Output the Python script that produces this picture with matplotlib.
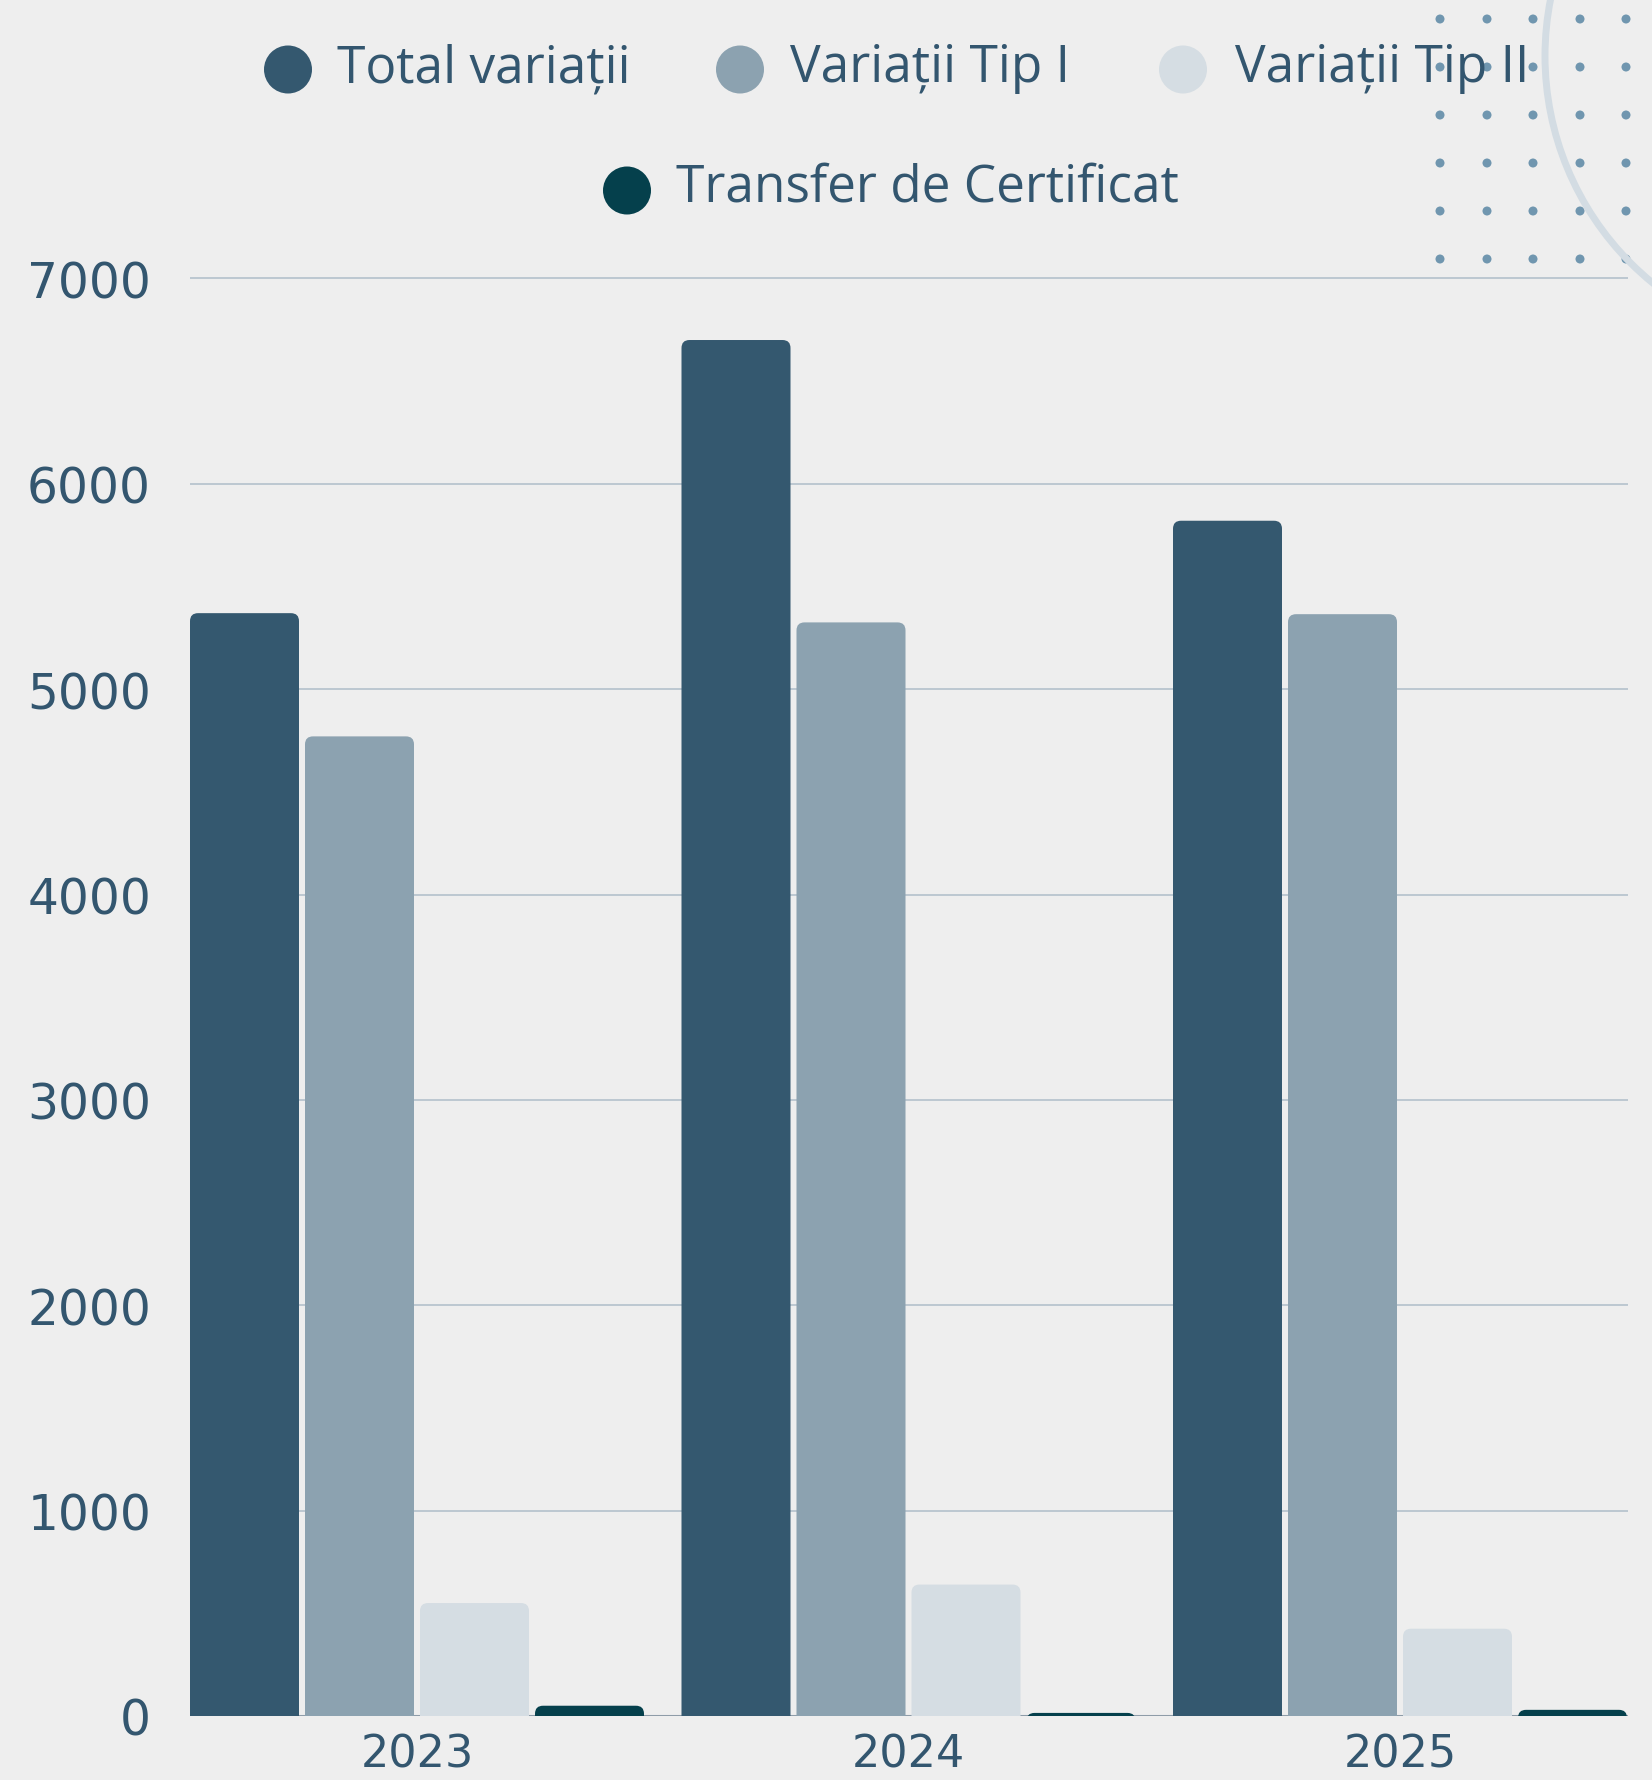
import matplotlib
matplotlib.use("Agg")
import matplotlib.pyplot as plt
from matplotlib.patches import FancyBboxPatch, Circle
import numpy as np

# ---- data ----
years = ["2023", "2024", "2025"]
series_labels = ["Total variații", "Variații Tip I", "Variații Tip II", "Transfer de Certificat"]
total_variatii = [5370, 6700, 5820]
variatii_tip1 = [4770, 5325, 5365]
variatii_tip2 = [550, 640, 425]
transfer_cert = [50, 15, 30]
y_ticks = [0, 1000, 2000, 3000, 4000, 5000, 6000, 7000]

series = [total_variatii, variatii_tip1, variatii_tip2, transfer_cert]
colors = ["#34586F", "#8CA2B0", "#D5DDE3", "#05404C"]
text_color = "#33566F"
bg = "#EEEEEE"

W, H = 1652, 1781
fig = plt.figure(figsize=(W / 100, H / 100), dpi=100)
fig.patch.set_facecolor(bg)

# ---- overlay (decoration + legend) in pixel coordinates ----
ov = fig.add_axes([0, 0, 1, 1], zorder=0)
ov.set_xlim(0, W)
ov.set_ylim(H, 0)
ov.axis("off")
ov.patch.set_alpha(0)

# dot grid decoration
for dx in [1440, 1487, 1533, 1580, 1626]:
    for dy in [20, 68, 116, 164, 212, 260]:
        ov.add_patch(Circle((dx, dy), 4.5, color="#7096AF", zorder=1, lw=0))
# arc decoration
ov.add_patch(Circle((1838, 57), 293, fill=False, ec="#D3DCE3", lw=5, zorder=1))

# legend (manual, centred rows)
leg_marker_xy = [(288, 70.5), (740, 70.5), (1183, 70.5), (627, 191.5)]
leg_text_xy = [(337, 82), (790, 82), (1235, 82), (676, 202)]
for (mx, my), (tx, ty), lab, c in zip(leg_marker_xy, leg_text_xy, series_labels, colors):
    ov.add_patch(Circle((mx, my), 24, color=c, zorder=3, lw=0))
    ov.text(tx, ty, lab, color=text_color, fontsize=37, family=["Open Sans", "DejaVu Sans"],
            ha="left", va="baseline", zorder=4)

# ---- main axes ----
px_per_unit_x = 491.5
left_px, right_px = 190, 1628
bottom_px = 1717
ymax = 7050
px_per_val = 1437.6 / 7000
top_px = bottom_px - ymax * px_per_val

ax = fig.add_axes([left_px / W, (H - bottom_px) / H, (right_px - left_px) / W,
                   (bottom_px - top_px) / H], zorder=2)
ax.patch.set_alpha(0)
x = np.arange(len(years))
ax.set_xlim(-(417 - left_px) / px_per_unit_x, (right_px - 417) / px_per_unit_x)
ax.set_ylim(0, ymax)

step = 115 / px_per_unit_x
width = 109 / px_per_unit_x
offsets = (np.arange(4) - 1.5) * step

# rounding geometry
radius_x = 8 / px_per_unit_x
aspect = (1 / px_per_val) / (1 / px_per_unit_x)
extra = 60 / px_per_val  # extend below 0, clipped by axes

for i, (vals, c) in enumerate(zip(series, colors)):
    bars = ax.bar(x + offsets[i], vals, width=width, color=c, zorder=3)
    for r in bars:
        r.set_visible(False)
        bx, bw, bh = r.get_x(), r.get_width(), r.get_height()
        p = FancyBboxPatch((bx, -extra), bw, bh + extra,
                           boxstyle=f"round,pad=0,rounding_size={radius_x}",
                           mutation_aspect=aspect, fc=c, ec="none", zorder=3)
        ax.add_patch(p)

ax.set_yticks(y_ticks)
ax.set_yticklabels([str(v) for v in y_ticks])
ax.set_xticks(x)
ax.set_xticklabels(years)
ax.grid(axis="y", color="#B8C4CE", lw=1.3, zorder=0)
ax.grid(axis="x", visible=False)
ax.axhline(0, color="#8E9CA8", lw=2.2, zorder=1)
ax.set_axisbelow(True)
for s in ax.spines.values():
    s.set_visible(False)
ax.tick_params(axis="both", length=0, colors=text_color)
ax.tick_params(axis="y", pad=28, labelsize=35)
ax.tick_params(axis="x", pad=12, labelsize=32)
for lab in ax.get_xticklabels() + ax.get_yticklabels():
    lab.set_family(["DejaVu Sans"])
    lab.set_color(text_color)

fig.savefig("out.png", dpi=100, facecolor=bg)
